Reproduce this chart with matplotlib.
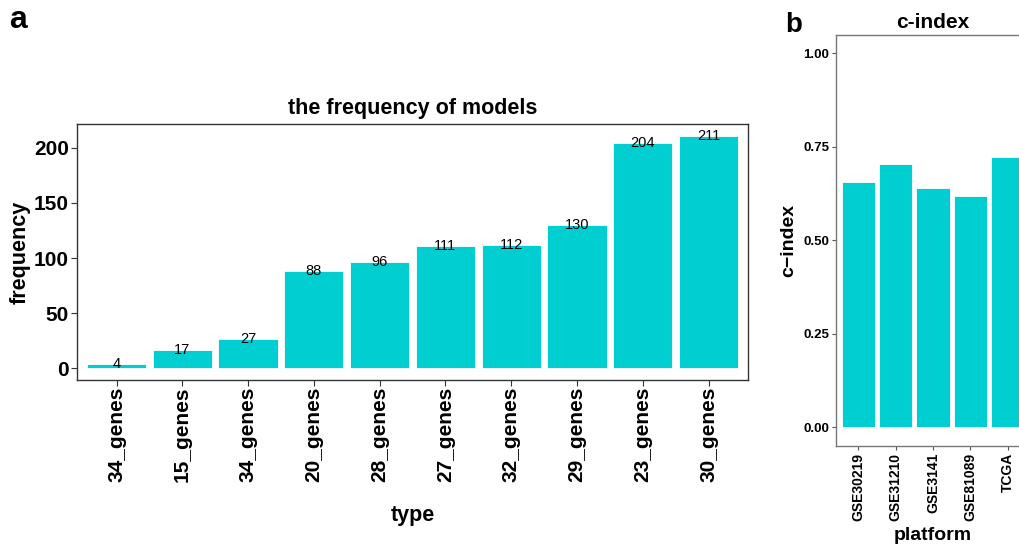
import matplotlib
matplotlib.use("Agg")
import matplotlib.pyplot as plt

plt.rcParams["font.family"] = ["Liberation Sans", "DejaVu Sans"]

# model frequency by gene signature
model_types = ["34_genes", "15_genes", "34_genes", "20_genes", "28_genes",
               "27_genes", "32_genes", "29_genes", "23_genes", "30_genes"]
model_freq = [4, 17, 27, 88, 96, 111, 112, 130, 204, 211]

# c-index per validation platform
platforms = ["GSE30219", "GSE31210", "GSE3141", "GSE81089", "TCGA"]
cindex = [0.655, 0.705, 0.640, 0.618, 0.723]

BAR_COLOR = "#00CED1"

fig = plt.figure(figsize=(10.19, 5.49), dpi=100)

# ---- panel a ----
ax_a = fig.add_axes([0.0756, 0.3078, 0.6585, 0.4663])
xa = range(len(model_types))
ax_a.bar(xa, model_freq, width=0.9, color=BAR_COLOR, edgecolor="white", linewidth=0.6)
for x, v in zip(xa, model_freq):
    ax_a.text(x, v, str(v), ha="center", va="center", fontsize=10.5, color="black")
ax_a.set_xlim(-0.6, len(model_types) - 0.4)
ax_a.set_ylim(-10.55, 221.55)
ax_a.set_xticks(list(xa))
ax_a.set_xticklabels(model_types, rotation=90, fontsize=15, fontweight="bold")
ax_a.set_yticks([0, 50, 100, 150, 200])
ax_a.set_yticklabels(["0", "50", "100", "150", "200"], fontsize=15, fontweight="bold")
ax_a.tick_params(length=4, width=0.8, color="#333333", pad=2)
ax_a.tick_params(axis="x", pad=1)
for s in ax_a.spines.values():
    s.set_color("#333333")
    s.set_linewidth(1.0)
ax_a.set_title("the frequency of models", fontsize=15.5, fontweight="bold", pad=7)
ax_a.set_xlabel("type", fontsize=15.5, fontweight="bold", labelpad=16)
ax_a.set_ylabel("frequency", fontsize=15.5, fontweight="bold", labelpad=2)

# ---- panel b (runs off the right edge) ----
ax_b = fig.add_axes([0.8204, 0.1876, 0.1904, 0.7492])
xb = range(len(platforms))
ax_b.bar(xb, cindex, width=0.9, color=BAR_COLOR, edgecolor="white", linewidth=0.6)
ax_b.set_xlim(-0.6, len(platforms) - 0.4)
ax_b.set_ylim(-0.05, 1.05)
ax_b.set_xticks(list(xb))
ax_b.set_xticklabels(platforms, rotation=90, fontsize=10, fontweight="bold")
ax_b.set_yticks([0, 0.25, 0.5, 0.75, 1.0])
ax_b.set_yticklabels(["0.00", "0.25", "0.50", "0.75", "1.00"], fontsize=9.5, fontweight="bold")
ax_b.tick_params(length=3, width=0.8, color="#555555", pad=2)
for s in ax_b.spines.values():
    s.set_color("#777777")
    s.set_linewidth(1.0)
ax_b.set_title("c-index", fontsize=15, fontweight="bold", pad=5)
ax_b.set_xlabel("platform", fontsize=14, fontweight="bold", labelpad=4)
ax_b.set_ylabel("c\u2212index", fontsize=14, fontweight="bold", labelpad=4)

fig.text(0.009, 0.949, "a", fontsize=23, fontweight="bold", va="baseline", ha="left")
fig.text(0.771, 0.942, "b", fontsize=20, fontweight="bold", va="baseline", ha="left")

fig.savefig("out.png", dpi=100)
